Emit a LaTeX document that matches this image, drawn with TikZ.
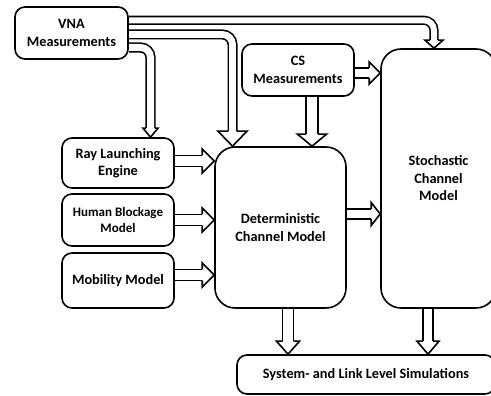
\documentclass[tikz,border=0pt]{standalone}
\usepackage{fontspec}
\setmainfont{Carlito}
\usetikzlibrary{calc,backgrounds}
\newcommand\ahead[5]{\begin{scope}[shift={(#1)},rotate=#2]\draw[headline] (-#5,#3) -- (-#5,#4) -- (0,0) -- (-#5,-#4) -- (-#5,-#3);\end{scope}}
\begin{document}
\begin{tikzpicture}[x=1pt,y=1pt,line width=1.6pt,
  box/.style={draw,line width=1.6pt,rounded corners=10pt,align=center,inner sep=0pt,font=\bfseries\fontsize{14.3}{17.5}\selectfont},
  bigbox/.style={box,rounded corners=20pt},
  shaft/.style={draw,line width=1.6pt,double=white,double distance=#1,rounded corners=10pt},
  headline/.style={draw,line width=1.6pt,fill=white,line join=miter}]
\clip (0,0) rectangle (491,396);
\node[box,minimum width=113pt,minimum height=52pt] (vna) at (71.5,363) {VNA\\Measurements};
\node[box,minimum width=112pt,minimum height=52pt] (cs) at (298,326) {CS\\Measurements};
\node[box,minimum width=112pt,minimum height=50pt] (ray) at (118,233) {Ray Launching\\Engine};
\node[box,minimum width=112pt,minimum height=52pt,font=\bfseries\fontsize{13}{15.6}\selectfont] (human) at (118,176) {Human Blockage\\Model};
\node[box,minimum width=112pt,minimum height=55pt] (mob) at (118,115.5) {Mobility Model};
\node[bigbox,minimum width=131pt,minimum height=161pt] (det) at (280.5,168.5) {Deterministic\\Channel Model};
\node[bigbox,minimum width=115pt,minimum height=259pt] (sto) at (438.5,217.5) {Stochastic\\Channel\\Model};
\node[box,minimum width=258pt,minimum height=39pt] (sys) at (366,21.5) {System- and Link Level Simulations};
\begin{pgfonlayer}{background}
% VNA -> Stochastic
\coordinate (t1) at (434,0 |- sto.north);
\draw[shaft=6pt] (vna.east |- 0,375.7) -| ($(t1)+(0,8)$);
\ahead{t1}{-90}{3.8}{9}{8}
% VNA -> Deterministic
\coordinate (t2) at (232.5,0 |- det.north);
\draw[shaft=6.8pt] (vna.east |- 0,361.5) -| ($(t2)+(0,15)$);
\ahead{t2}{-90}{4.2}{14.5}{15}
% VNA -> Ray
\coordinate (t3) at (150.5,0 |- ray.north);
\draw[shaft=7pt] (vna.east |- 0,348.5) -| ($(t3)+(0,9)$);
\ahead{t3}{-90}{4.3}{7.5}{9}
% CS -> Deterministic
\coordinate (t4) at (312,0 |- det.north);
\draw[shaft=10.4pt] (312,0 |- cs.south) -- ($(t4)+(0,12)$);
\ahead{t4}{-90}{6}{14.5}{12}
% CS -> Stochastic
\coordinate (t5) at (sto.west |- 0,323);
\draw[shaft=8.4pt] (cs.east |- 0,323) -- ($(t5)+(-11,0)$);
\ahead{t5}{0}{5}{11}{11}
% Ray -> Det
\coordinate (t6) at (det.west |- 0,235);
\draw[shaft=9.4pt] (ray.east |- 0,235) -- ($(t6)+(-12,0)$);
\ahead{t6}{0}{5.5}{12}{12}
% Human -> Det
\coordinate (t7) at (det.west |- human.east);
\draw[shaft=9.4pt] (human.east) -- ($(t7)+(-12,0)$);
\ahead{t7}{0}{5.5}{12}{12}
% Mobility -> Det
\coordinate (t8) at (det.west |- 0,121);
\draw[shaft=9.4pt] (mob.east |- 0,121) -- ($(t8)+(-12,0)$);
\ahead{t8}{0}{5.5}{12}{12}
% Det -> Stochastic
\coordinate (t9) at (sto.west |- 0,182);
\draw[shaft=8.4pt] (det.east |- 0,182) -- ($(t9)+(-9,0)$);
\ahead{t9}{0}{5}{11.5}{9}
% Det -> System
\coordinate (t10) at (288,0 |- sys.north);
\draw[shaft=9.4pt] (288,0 |- det.south) -- ($(t10)+(0,13)$);
\ahead{t10}{-90}{5.5}{11.5}{13}
% Stochastic -> System
\coordinate (t11) at (428,0 |- sys.north);
\draw[shaft=8.4pt] (428,0 |- sto.south) -- ($(t11)+(0,13)$);
\ahead{t11}{-90}{5}{11}{13}
\end{pgfonlayer}
\end{tikzpicture}
\end{document}
